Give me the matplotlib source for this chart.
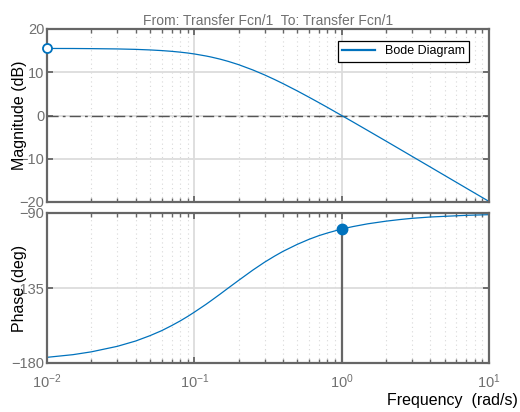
import matplotlib
matplotlib.use("Agg")
import matplotlib.pyplot as plt
from matplotlib.ticker import LogLocator, NullFormatter, FixedLocator

frecuencias = [0.01, 0.015, 0.02, 0.03, 0.04, 0.05, 0.06, 0.07, 0.08, 0.09,
               0.1, 0.12, 0.13, 0.15, 0.17, 0.2, 0.25, 0.3, 0.35, 0.4, 0.5,
               0.6, 0.7, 0.8, 1.0, 1.2, 1.5, 2.0, 2.5, 3.0, 4.0, 5.0, 7.0, 10.0]
magnitud_db = [15.50, 15.49, 15.46, 15.39, 15.29, 15.16, 15.01, 14.84, 14.65,
               14.45, 14.23, 13.76, 13.52, 13.02, 12.51, 11.75, 10.52, 9.38,
               8.33, 7.37, 5.68, 4.23, 2.98, 1.88, 0.0, -1.54, -3.45, -5.92,
               -7.85, -9.43, -11.92, -13.86, -16.78, -19.87]
fase_deg = [-176.6, -175.0, -173.3, -170.0, -166.8, -163.6, -160.6, -157.6,
            -154.8, -152.1, -149.5, -144.8, -142.6, -138.6, -135.0, -130.4,
            -124.2, -119.5, -115.9, -113.0, -108.8, -105.8, -103.6, -102.0,
            -99.6, -98.1, -96.5, -94.9, -93.9, -93.2, -92.4, -92.0, -91.4,
            -91.0]

mag_ticks = [20, 10, 0, -10, -20]
fase_ticks = [-90, -135, -180]

AZUL = "#0072BD"
GRIS = "#666666"
GRIS_TXT = "#707070"

plt.rcParams["font.family"] = ["Liberation Sans", "DejaVu Sans"]

fig = plt.figure(figsize=(5.2, 4.12), dpi=100)
ax1 = fig.add_axes([47 / 520, 1 - 202 / 412, 442 / 520, 173 / 412])
ax2 = fig.add_axes([47 / 520, 1 - 363 / 412, 442 / 520, 150 / 412])


def estilo(ax):
    ax.set_xscale("log")
    ax.set_xlim(0.01, 10)
    ax.xaxis.set_major_locator(LogLocator(base=10, numticks=10))
    ax.xaxis.set_minor_locator(LogLocator(base=10, subs=range(2, 10), numticks=10))
    ax.xaxis.set_minor_formatter(NullFormatter())
    for s in ax.spines.values():
        s.set_color(GRIS)
        s.set_linewidth(1.6)
    ax.tick_params(which="both", direction="in", top=True, right=True,
                   color=GRIS, labelcolor=GRIS_TXT, labelsize=10.5, pad=2)
    ax.tick_params(which="major", length=4, width=1.3)
    ax.tick_params(which="minor", length=3, width=1.0)
    ax.grid(which="major", color="#dcdcdc", linestyle="-", linewidth=1.3)
    ax.grid(which="minor", axis="x", color="#d8d8d8", linestyle=(0, (1, 3)),
            linewidth=0.8)
    ax.set_axisbelow(True)


# === Magnitud ===
estilo(ax1)
ax1.plot(frecuencias, magnitud_db, color=AZUL, linewidth=0.9, label="Bode Diagram")
ax1.axhline(0, color="#555555", linestyle=(0, (8, 3, 2, 3)), linewidth=1.0, zorder=1.5)
ax1.plot(frecuencias[0], magnitud_db[0], "o", markersize=6.5, markerfacecolor="white",
         markeredgecolor=AZUL, markeredgewidth=1.3, clip_on=False, zorder=5)
ax1.set_ylim(-20, 20)
ax1.yaxis.set_major_locator(FixedLocator(mag_ticks))
ax1.tick_params(axis="x", labelbottom=False)
ax1.set_ylabel("Magnitude (dB)", fontsize=11.5, color="black")
ax1.yaxis.set_label_coords(-0.045, 0.5)
ax1.set_title("From: Transfer Fcn/1  To: Transfer Fcn/1", fontsize=10,
              color=GRIS_TXT, pad=3)
leg = ax1.legend(loc="upper right", bbox_to_anchor=(0.955, 0.93), borderaxespad=0,
                 fancybox=False, edgecolor="black", fontsize=9, framealpha=1,
                 handlelength=2.6, borderpad=0.35)
leg.get_frame().set_linewidth(0.9)
leg.get_lines()[0].set_linewidth(1.6)

# === Fase ===
estilo(ax2)
ax2.plot(frecuencias, fase_deg, color=AZUL, linewidth=0.9)
i_cruce = frecuencias.index(1.0)
ax2.plot([frecuencias[i_cruce], frecuencias[i_cruce]], [-180, fase_deg[i_cruce]],
         color=GRIS, linewidth=1.6, zorder=3)
ax2.plot(frecuencias[i_cruce], fase_deg[i_cruce], "o", markersize=7.5, color=AZUL,
         zorder=5)
ax2.set_ylim(-180, -90)
ax2.yaxis.set_major_locator(FixedLocator(fase_ticks))
ax2.set_ylabel("Phase (deg)", fontsize=11.5, color="black")
ax2.yaxis.set_label_coords(-0.045, 0.5)
ax2.tick_params(axis="x", pad=7)

fig.text(0.996, 1 - 400 / 412, "Frequency  (rad/s)", ha="right", va="center",
         fontsize=11.5, color="black")

fig.savefig("out.png", dpi=100)
